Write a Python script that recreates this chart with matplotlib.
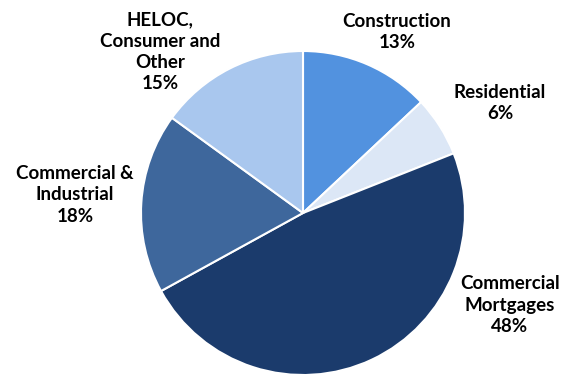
import matplotlib
matplotlib.use("Agg")
import matplotlib.pyplot as plt

categories = ["Construction", "Residential", "Commercial\nMortgages", "Commercial &\nIndustrial", "HELOC,\nConsumer and\nOther"]
values = [13, 6, 48, 18, 15]
colors = ["#5292DF", "#DCE7F6", "#1B3B6C", "#3E679C", "#A9C7EE"]

# label centers in pixel coordinates (x, y from top)
label_pos = [(397, 32), (500, 103), (510, 305), (75, 195), (160, 52)]

W, H = 575, 375
fig = plt.figure(figsize=(W/100, H/100), dpi=100)
R = 162
cx, cy = 303, 213
ax = fig.add_axes([(cx - R)/W, (H - cy - R)/H, 2*R/W, 2*R/H])
ax.pie(values, colors=colors, startangle=90, counterclock=False,
       wedgeprops=dict(edgecolor="white", linewidth=1.5), radius=1.0)
ax.set_xlim(-1, 1)
ax.set_ylim(-1, 1)
ax.set_aspect("equal")
ax.axis("off")

for cat, v, (px, py) in zip(categories, values, label_pos):
    fig.text(px/W, 1 - py/H, f"{cat}\n{v}%", ha="center", va="center",
             fontsize=13.5, fontweight="bold", family=["Lato", "DejaVu Sans"],
             linespacing=1.3, color="black")

fig.savefig("out.png", dpi=100)
